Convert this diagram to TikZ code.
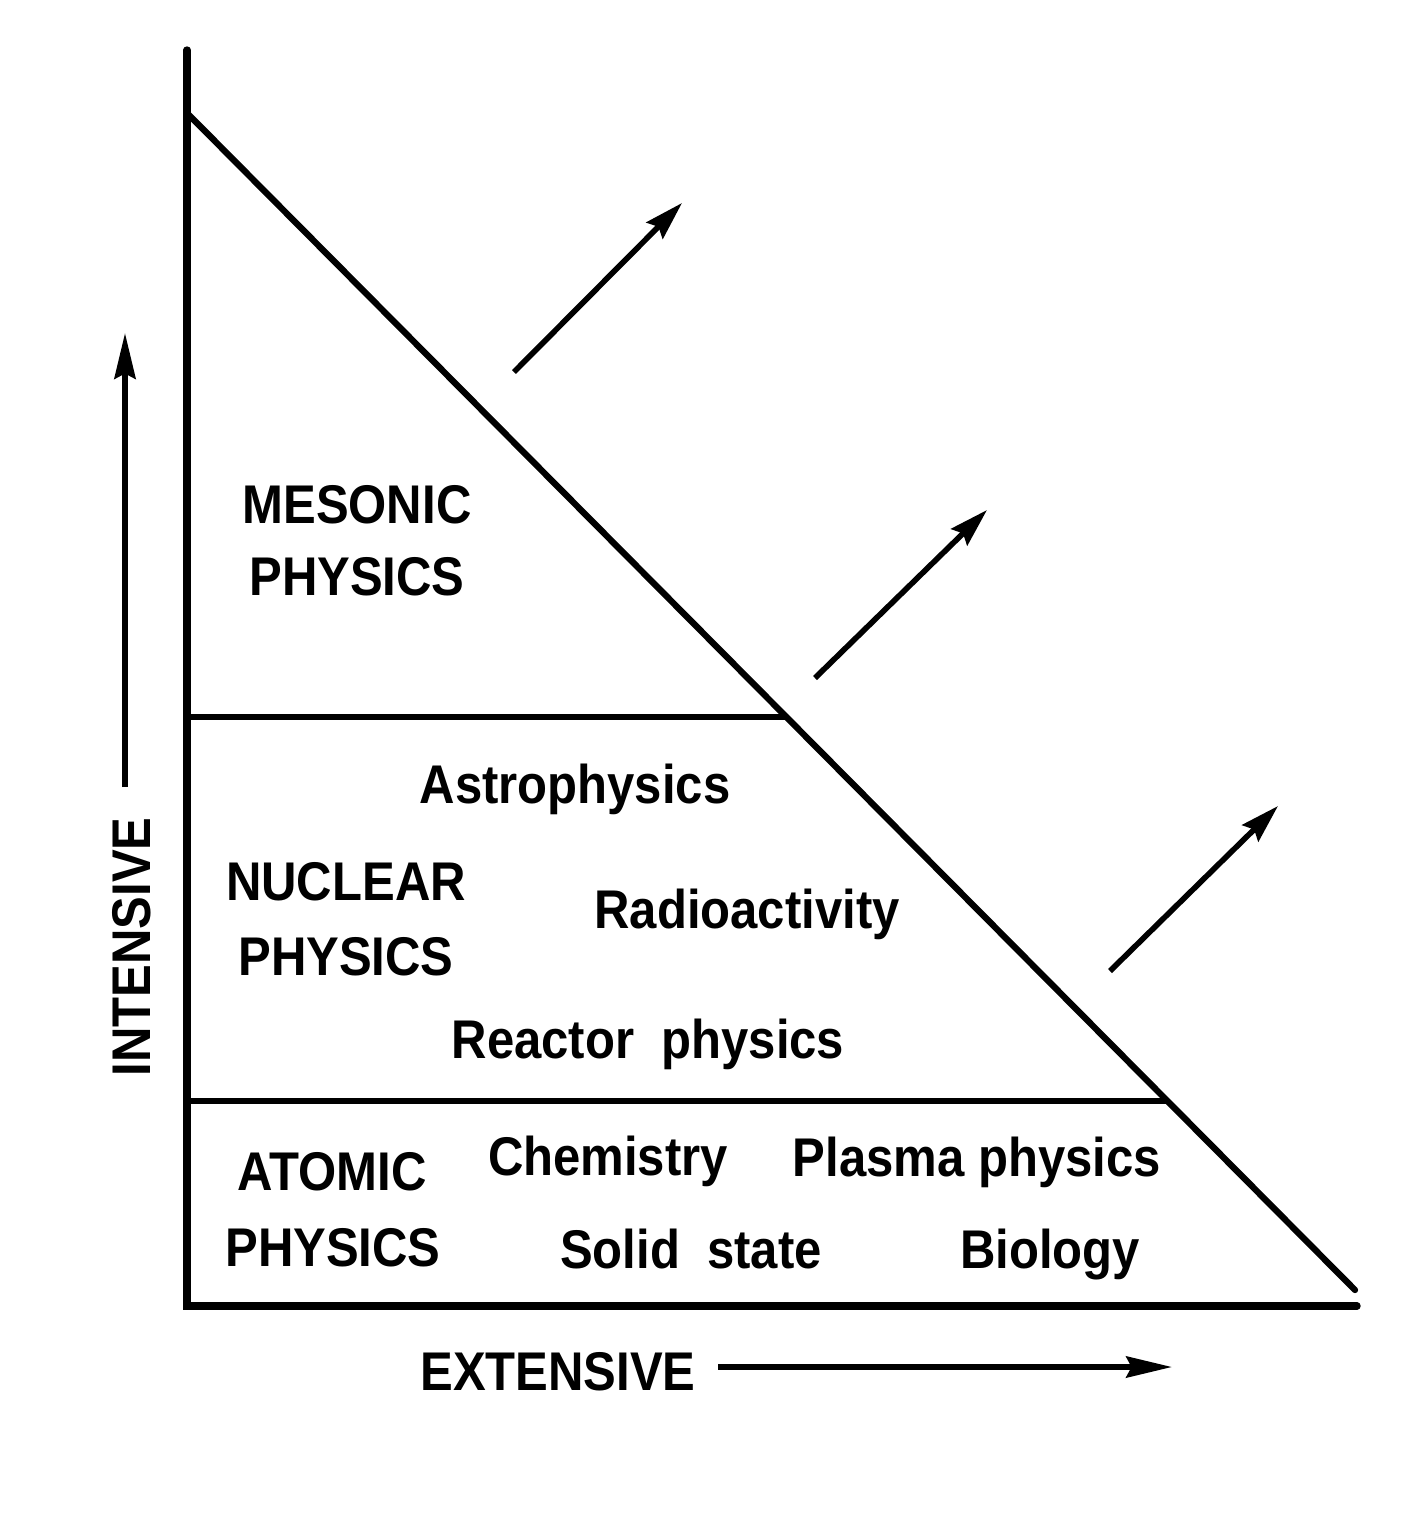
\documentclass[tikz,border=0pt]{standalone}
\usepackage{fontspec}
\usetikzlibrary{arrows.meta}
\newfontfamily\labfont[FakeStretch=0.9]{Liberation Sans Bold}
\begin{document}
\begin{tikzpicture}[x=0.01cm,y=-0.01cm,
  lab/.style={font=\labfont\fontsize{15.5}{18}\selectfont, anchor=base, inner sep=0pt},
  axisline/.style={line width=2.1pt, line cap=round},
  boundary/.style={line width=1.8pt, line cap=round},
  arr/.style={line width=1.6pt, -{Stealth[length=11pt,width=6.5pt,inset=1.5pt]}},
  axarr/.style={line width=1.6pt, -{Stealth[length=13pt,width=6pt,inset=1.5pt]}}]
\useasboundingbox (0,0) rectangle (1416,1514);
% frame coordinates
\coordinate (top) at (187,50);
\coordinate (origin) at (187,1306);
\coordinate (xend) at (1357,1306);
\coordinate (dstart) at (187,113);
\coordinate (dend) at (1355,1290);
\coordinate (m1l) at (187,717);
\coordinate (m1r) at (786,717);
\coordinate (m2l) at (187,1101);
\coordinate (m2r) at (1166,1101);
\draw[axisline] (top) -- (origin) -- (xend);
\draw[boundary] (dstart) -- (dend);
\draw[boundary] (m1l) -- (m1r);
\draw[boundary] (m2l) -- (m2r);
% outward arrows
\coordinate (a1s) at (514,372); \coordinate (a1e) at (682,203);
\coordinate (a2s) at (815,678); \coordinate (a2e) at (987,510);
\coordinate (a3s) at (1110,971); \coordinate (a3e) at (1278,806);
\draw[arr] (a1s) -- (a1e);
\draw[arr] (a2s) -- (a2e);
\draw[arr] (a3s) -- (a3e);
% axis labels
\coordinate (is) at (125,787); \coordinate (ie) at (125,333);
\draw[axarr] (is) -- (ie);
\node[lab, rotate=90] (intensive) at (150,947) {INTENSIVE};
\node[lab] (extensive) at (558,1390) {EXTENSIVE};
\coordinate (es) at (718,1367); \coordinate (ee) at (1172,1367);
\draw[axarr] (es) -- (ee);
% region labels
\node[lab] (meso1) at (357,523) {MESONIC};
\node[lab] (meso2) at (357,595) {PHYSICS};
\node[lab] (astro) at (575,803) {Astrophysics};
\node[lab] (nuc1) at (346,900) {NUCLEAR};
\node[lab] (nuc2) at (346,975) {PHYSICS};
\node[lab] (radio) at (747,928) {Radioactivity};
\node[lab] (reactor) at (648,1058) {Reactor\ \ physics};
\node[lab] (atom1) at (332,1190) {ATOMIC};
\node[lab] (atom2) at (333,1266) {PHYSICS};
\node[lab] (chem) at (608,1175) {Chemistry};
\node[lab] (plasma) at (977,1176) {Plasma physics};
\node[lab] (solid) at (691,1268) {Solid\ \ state};
\node[lab] (bio) at (1050,1268) {Biology};
\end{tikzpicture}
\end{document}
